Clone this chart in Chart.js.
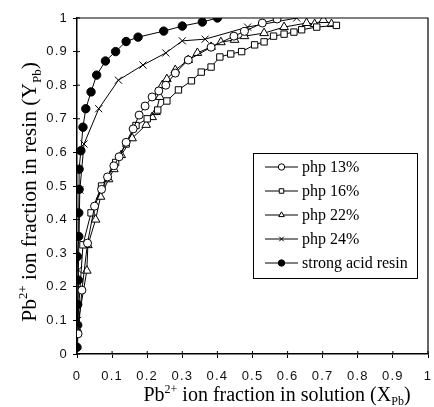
<!DOCTYPE html>
<html><head><meta charset="utf-8">
<script src="https://cdn.jsdelivr.net/npm/chart.js@4/dist/chart.umd.min.js"></script>
<style>html,body{margin:0;padding:0;background:#fff}#wrap{position:relative;width:434px;height:407px}</style>
</head><body><div id="wrap"><canvas id="c" width="434" height="407"></canvas></div>
<script>
// ---- data ----
const seriesNames = ['php 13%','php 16%','php 22%','php 24%','strong acid resin'];
const xTickValues = [0,0.1,0.2,0.3,0.4,0.5,0.6,0.7,0.8,0.9,1];
const yTickValues = [0,0.1,0.2,0.3,0.4,0.5,0.6,0.7,0.8,0.9,1];

const php13X = [0.003,0.014,0.03,0.05,0.07,0.087,0.105,0.12,0.14,0.16,0.177,0.194,0.214,0.233,0.253,0.28,0.317,0.382,0.447,0.477,0.528,0.57];
const php13Y = [0.06,0.19,0.33,0.44,0.49,0.527,0.56,0.587,0.63,0.67,0.711,0.738,0.765,0.783,0.80,0.836,0.875,0.913,0.946,0.96,0.985,0.997];

const php16X = [0.0,0.017,0.04,0.07,0.11,0.14,0.168,0.20,0.23,0.256,0.289,0.326,0.354,0.382,0.407,0.438,0.469,0.506,0.533,0.56,0.59,0.618,0.64,0.683,0.739];
const php16Y = [0.063,0.325,0.42,0.50,0.57,0.625,0.68,0.70,0.726,0.753,0.786,0.813,0.839,0.854,0.884,0.893,0.90,0.92,0.929,0.946,0.952,0.958,0.965,0.973,0.978];

const php22X = [0.0,0.028,0.031,0.053,0.067,0.09,0.105,0.126,0.157,0.197,0.214,0.225,0.236,0.243,0.256,0.28,0.317,0.343,0.382,0.41,0.449,0.477,0.533,0.59,0.654,0.677,0.702,0.725];
const php22Y = [0.075,0.248,0.324,0.40,0.468,0.52,0.55,0.592,0.642,0.682,0.705,0.72,0.765,0.80,0.818,0.845,0.875,0.896,0.914,0.928,0.935,0.946,0.955,0.973,0.985,0.982,0.994,0.982];

const php24X = [0.002,0.004,0.008,0.02,0.062,0.118,0.188,0.253,0.30,0.365,0.486,0.626];
const php24Y = [0.10,0.25,0.488,0.625,0.73,0.815,0.86,0.896,0.932,0.937,0.973,1.0];

const strongX = [0.0,0.002,0.002,0.004,0.001,0.005,0.005,0.006,0.006,0.011,0.017,0.025,0.04,0.056,0.081,0.11,0.14,0.174,0.247,0.30,0.357,0.40];
const strongY = [0.02,0.086,0.147,0.22,0.29,0.35,0.42,0.49,0.55,0.605,0.675,0.73,0.78,0.83,0.872,0.90,0.93,0.943,0.961,0.976,0.988,1.0];

// ---- build ----
const pts = (xs, ys) => xs.map((x, i) => ({x, y: ys[i]}));
const styles = [
  {pointStyle:'circle', bg:'#fff', r:4},
  {pointStyle:'rect', bg:'#fff', r:4.5},
  {pointStyle:'triangle', bg:'#fff', r:5},
  {pointStyle:'crossRot', bg:'#000', r:5},
  {pointStyle:'circle', bg:'#000', r:4.2}
];
const allData = [pts(php13X,php13Y), pts(php16X,php16Y), pts(php22X,php22Y), pts(php24X,php24Y), pts(strongX,strongY)];
const datasets = allData.map((d, i) => ({
  label: seriesNames[i], data: d, showLine: true,
  borderColor: '#000', borderWidth: 1,
  pointStyle: styles[i].pointStyle, pointRadius: styles[i].r,
  pointBackgroundColor: styles[i].bg, pointBorderColor: '#000', pointBorderWidth: 1,
  order: i
}));

const SERIF = '"Liberation Serif", "Times New Roman", serif';
const SANS = '"Liberation Sans", Arial, sans-serif';

function drawRich(ctx, parts, size) {
  let x = 0;
  for (const p of parts) {
    const s = p.k === 'n' ? size : size * 0.6;
    const dy = p.k === 'sup' ? -size * 0.42 : (p.k === 'sub' ? size * 0.22 : 0);
    ctx.font = s + 'px ' + SERIF;
    ctx.fillText(p.t, x, dy);
    x += ctx.measureText(p.t).width;
  }
  return x;
}
function richWidth(ctx, parts, size) {
  let w = 0;
  for (const p of parts) {
    const s = p.k === 'n' ? size : size * 0.6;
    ctx.font = s + 'px ' + SERIF;
    w += ctx.measureText(p.t).width;
  }
  return w;
}

const xTitle = [{t:'Pb',k:'n'},{t:'2+',k:'sup'},{t:' ion fraction in solution (X',k:'n'},{t:'Pb',k:'sub'},{t:')',k:'n'}];
const yTitle = [{t:'Pb',k:'n'},{t:'2+',k:'sup'},{t:' ion fraction in resin (Y',k:'n'},{t:'Pb',k:'sub'},{t:')',k:'n'}];

const decor = {
  id: 'decor',
  beforeDraw(chart) { chart.ctx.letterSpacing = '1.2px'; },
  afterDraw(chart) {
    const ctx = chart.ctx, a = chart.chartArea;
    ctx.save();
    ctx.letterSpacing = '0px';
    // frame top & right
    ctx.strokeStyle = '#000'; ctx.lineWidth = 1.2;
    ctx.beginPath();
    ctx.moveTo(a.left, a.top); ctx.lineTo(a.right, a.top); ctx.lineTo(a.right, a.bottom);
    ctx.stroke();
    // inward tick parts
    const xs = chart.scales.x, ys = chart.scales.y;
    ctx.lineWidth = 1;
    ctx.beginPath();
    for (const v of xTickValues) { const px = xs.getPixelForValue(v); ctx.moveTo(px, a.bottom); ctx.lineTo(px, a.bottom - 3); }
    for (const v of yTickValues) { const py = ys.getPixelForValue(v); ctx.moveTo(a.left, py); ctx.lineTo(a.left + 3, py); }
    ctx.stroke();

    // axis titles
    ctx.fillStyle = '#000'; ctx.textBaseline = 'alphabetic'; ctx.textAlign = 'left';
    let fs = 20;
    let w = richWidth(ctx, xTitle, fs);
    ctx.save(); ctx.translate(277 - w / 2, 401); drawRich(ctx, xTitle, fs); ctx.restore();
    fs = 21.5;
    w = richWidth(ctx, yTitle, fs);
    ctx.save(); ctx.translate(36, 192 + w / 2); ctx.rotate(-Math.PI / 2); drawRich(ctx, yTitle, fs); ctx.restore();

    // legend
    const L = 253, T = 153, R = 417, B = 278;
    ctx.fillStyle = '#fff'; ctx.fillRect(L, T, R - L, B - T);
    ctx.strokeStyle = '#000'; ctx.lineWidth = 1; ctx.strokeRect(L + 0.5, T + 0.5, R - L, B - T);
    ctx.font = '16px ' + SERIF; ctx.textBaseline = 'middle';
    chart.data.datasets.forEach((ds, i) => {
      const y = T + 14 + i * 24;
      ctx.strokeStyle = '#000'; ctx.lineWidth = 1;
      ctx.beginPath(); ctx.moveTo(265, y); ctx.lineTo(298, y); ctx.stroke();
      ctx.fillStyle = ds.pointBackgroundColor;
      Chart.helpers.drawPoint(ctx, {pointStyle: ds.pointStyle, radius: 3.2, borderWidth: 1, rotation: 0}, 281.5, y);
      ctx.fillStyle = '#000';
      ctx.fillText(ds.label, 302, y + 1);
    });
    ctx.restore();
  }
};

const tickFmt = v => String(Math.round(v * 10) / 10);

new Chart(document.getElementById('c'), {
  type: 'scatter',
  data: { datasets },
  options: {
    responsive: false, animation: false, devicePixelRatio: 1,
    layout: { padding: { top: 18, right: 2, left: 0, bottom: 0 } },
    plugins: { legend: { display: false }, tooltip: { enabled: false } },
    scales: {
      x: {
        type: 'linear', min: 0, max: 1,
        afterBuildTicks: s => { s.ticks = xTickValues.map(v => ({value: v})); },
        ticks: { callback: tickFmt, color: '#111', font: { family: SANS, size: 13 }, padding: 11, maxRotation: 0, autoSkip: false },
        grid: { drawOnChartArea: false, color: '#000', tickLength: 4, lineWidth: 1 },
        border: { color: '#000', width: 1.5 },
        afterFit: s => { s.height = 53; s.paddingLeft = 0; s.paddingRight = 0; }
      },
      y: {
        type: 'linear', min: 0, max: 1,
        afterBuildTicks: s => { s.ticks = yTickValues.map(v => ({value: v})); },
        ticks: { callback: tickFmt, color: '#111', font: { family: SANS, size: 13 }, padding: 5, autoSkip: false },
        grid: { drawOnChartArea: false, color: '#000', tickLength: 4, lineWidth: 1 },
        border: { color: '#000', width: 1.5 },
        afterFit: s => { s.width = 77; s.paddingTop = 0; s.paddingBottom = 0; }
      }
    }
  },
  plugins: [decor]
});
</script></body></html>
